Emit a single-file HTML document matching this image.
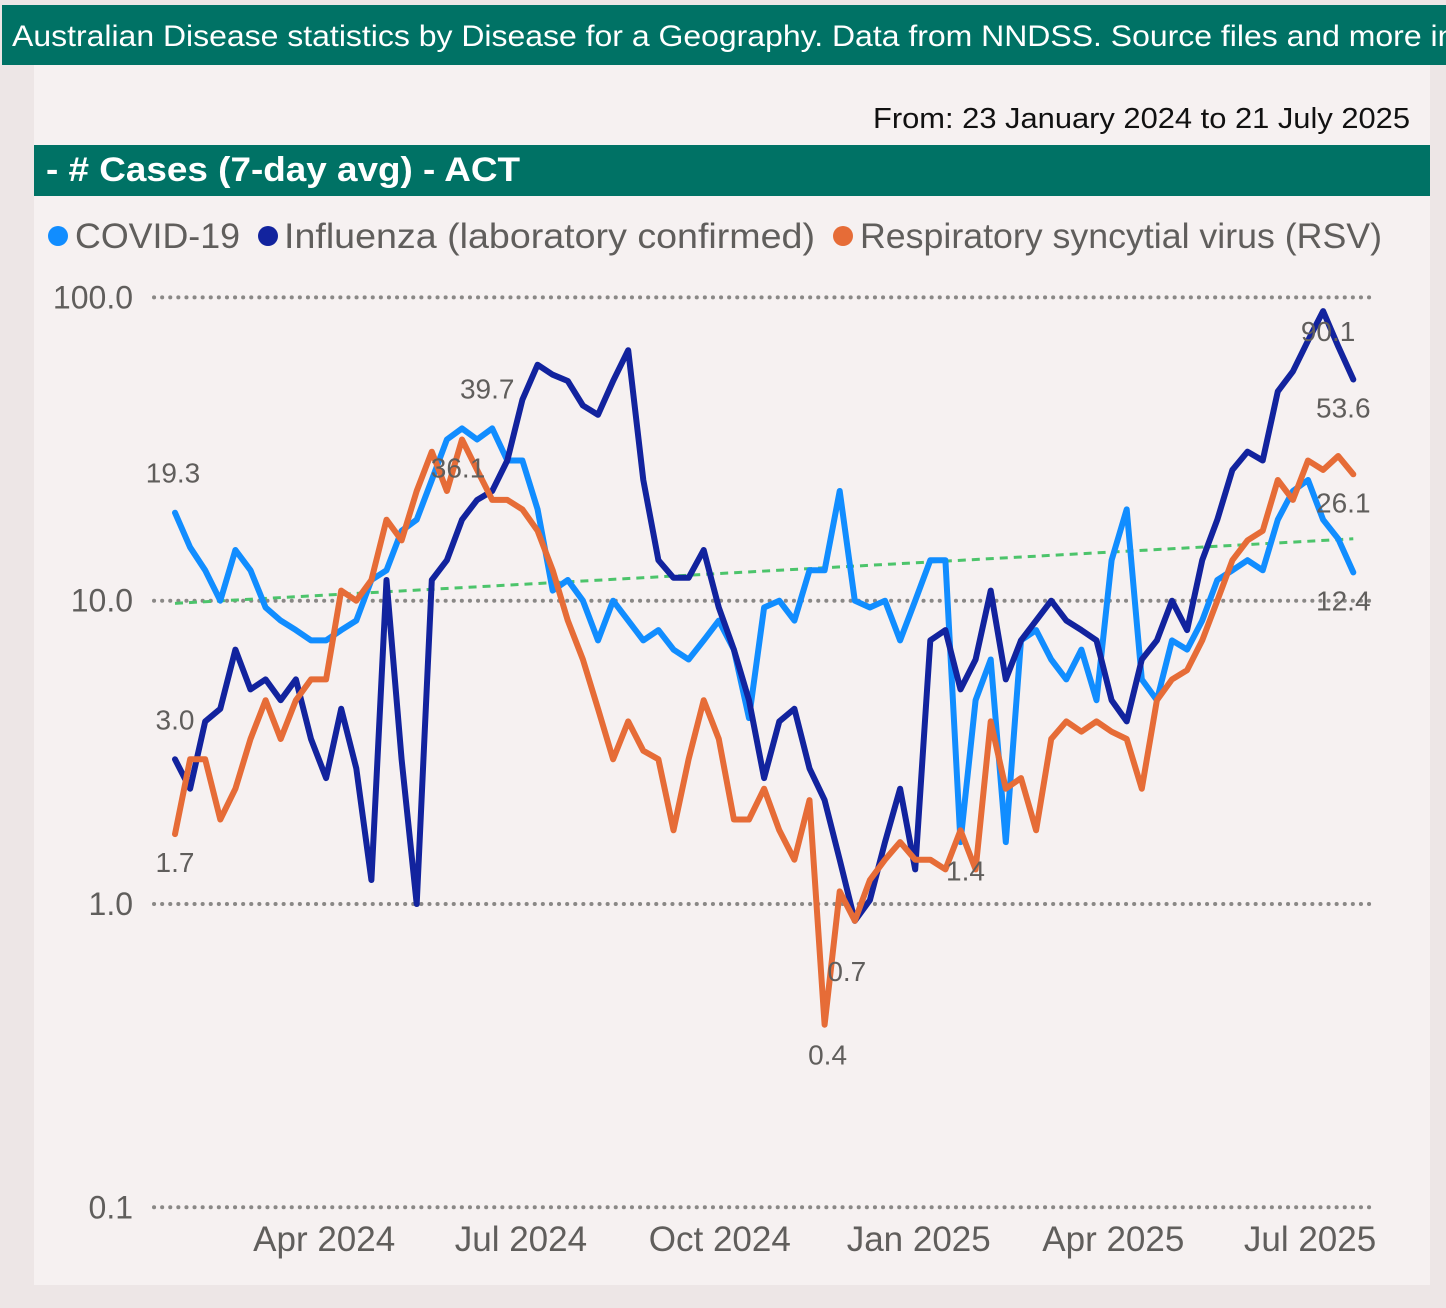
<!DOCTYPE html>
<html><head><meta charset="utf-8"><style>
html,body{margin:0;padding:0;background:#ede6e6;}
svg{display:block;font-family:"Liberation Sans",sans-serif;}
</style></head><body>
<svg id="chart" width="1446" height="1308" viewBox="0 0 1446 1308">
<rect x="0" y="0" width="1446" height="1308" fill="#ede6e6"/>
<rect x="2" y="5" width="1444" height="60" fill="#007265"/>
<text x="12" y="46" font-size="30" fill="#ffffff" textLength="1470" lengthAdjust="spacingAndGlyphs">Australian Disease statistics by Disease for a Geography. Data from NNDSS. Source files and more info</text>
<rect x="34" y="65" width="1396" height="1220" fill="#f6f1f1"/>
<text x="873" y="128" font-size="29" fill="#111" textLength="537" lengthAdjust="spacingAndGlyphs">From: 23 January 2024 to 21 July 2025</text>
<rect x="34" y="145" width="1396" height="51" fill="#007265"/>
<text x="46" y="181" font-size="34" font-weight="bold" fill="#ffffff" textLength="474" lengthAdjust="spacingAndGlyphs">- # Cases (7-day avg) - ACT</text>
<g font-size="35" fill="#605e5c">
<circle cx="58" cy="236" r="10" fill="#118DFF"/>
<text x="75" y="248" textLength="165" lengthAdjust="spacingAndGlyphs">COVID-19</text>
<circle cx="268" cy="236" r="10" fill="#12239E"/>
<text x="284" y="248" textLength="531" lengthAdjust="spacingAndGlyphs">Influenza (laboratory confirmed)</text>
<circle cx="843" cy="236" r="10" fill="#E66C37"/>
<text x="860" y="248" textLength="522" lengthAdjust="spacingAndGlyphs">Respiratory syncytial virus (RSV)</text>
</g>
<g id="grid"></g><g id="trend"></g><g id="series"></g><g id="labels"></g><g id="axes"></g>
</svg>
<script>
const yTicks=[100,10,1,0.1];
const yTickLabels=["100.0","10.0","1.0","0.1"];
const xTickDays=[69,160,252,344,434,525];
const xTickLabels=["Apr 2024","Jul 2024","Oct 2024","Jan 2025","Apr 2025","Jul 2025"];
const covid=[19.5,15,12.6,10,14.7,12.6,9.5,8.6,8,7.4,7.4,8,8.6,11.7,12.6,17,18.5,25,34,37,34,37,29,29,20,10.8,11.7,10,7.4,10,8.6,7.4,8,6.9,6.4,7.4,8.6,6.9,4.1,9.5,10,8.6,12.6,12.6,23,10,9.5,10,7.4,10,13.6,13.6,1.6,4.7,6.4,1.6,7.4,8,6.4,5.5,6.9,4.7,13.6,20,5.5,4.7,7.4,6.9,8.6,11.7,12.6,13.6,12.6,18.5,23,25,18.5,16,12.4];
const influenza=[3.0,2.4,4.0,4.4,6.9,5.1,5.5,4.7,5.5,3.5,2.6,4.4,2.8,1.2,11.7,3.0,1.0,11.7,13.6,18.5,21.5,23,29,46,60,55.6,53,44,41,53,67,25,13.6,11.9,11.9,14.7,9.5,6.9,4.7,2.6,4.0,4.4,2.8,2.2,1.4,0.88,1.03,1.6,2.4,1.3,7.4,8,5.1,6.4,10.8,5.5,7.4,8.6,10,8.6,8,7.4,4.7,4.0,6.4,7.4,10,8,13.6,18.5,27,31,29,49,57,72,90.1,69,53.6];
const rsv=[1.7,3.0,3.0,1.9,2.4,3.5,4.7,3.5,4.7,5.5,5.5,10.8,10,11.7,18.5,15.8,23,31,23,34,27,21.5,21.5,20,17,12.6,8.6,6.4,4.4,3.0,4.0,3.2,3.0,1.75,3.0,4.7,3.5,1.9,1.9,2.4,1.75,1.4,2.2,0.4,1.1,0.88,1.2,1.4,1.6,1.4,1.4,1.3,1.75,1.3,4.0,2.4,2.6,1.75,3.5,4.0,3.7,4.0,3.7,3.5,2.4,4.7,5.5,5.9,7.4,10,13.6,15.8,17,25,21.5,29,27,30,26.1];
const trendStart=9.8, trendEnd=16;
const labelIdx=[[0,"covid","19.3",-2,-30],[0,"influenza","3.0",0,-30],[0,"rsv","1.7",0,38],[21,"covid","39.7",-5,-30],[19,"rsv","36.1",-4,38],[45,"influenza","0.7",-8,60],[43,"rsv","0.4",3,40],[52,"rsv","1.4",5,50],[76,"influenza","90.1",5,30],[78,"influenza","53.6",-10,38],[78,"rsv","26.1",-10,38],[78,"covid","12.4",-10,38]];
const series={covid:covid,influenza:influenza,rsv:rsv};
const colors={covid:"#118DFF",influenza:"#12239E",rsv:"#E66C37"};
const NS="http://www.w3.org/2000/svg";
function x(day){return 175+2.162*day;}
function y(v){return 904-303.3*Math.log10(v);}
function mk(tag,attrs,parent){const e=document.createElementNS(NS,tag);for(const k in attrs)e.setAttribute(k,attrs[k]);parent.appendChild(e);return e;}
const grid=document.getElementById('grid'),axes=document.getElementById('axes');
yTicks.forEach((t,i)=>{
 const l=mk('line',{x1:154,x2:1370,y1:y(t),y2:y(t),stroke:'#8a8886','stroke-width':4,'stroke-dasharray':'0.1 8','stroke-linecap':'round'},grid);
 
 
 const tx=mk('text',{x:133,y:y(t)+11,'font-size':32,fill:'#605e5c','text-anchor':'end'},axes);
 tx.textContent=yTickLabels[i];
 
 
});
xTickDays.forEach((d,i)=>{
 const tx=mk('text',{x:x(d),y:1251,'font-size':35,fill:'#605e5c','text-anchor':'middle'},axes);
 tx.textContent=xTickLabels[i];
 
 
});
const tl=mk('line',{x1:x(0),x2:x(545),y1:y(trendStart),y2:y(trendEnd),stroke:'#4cc46b','stroke-width':3,'stroke-dasharray':'8 6'},document.getElementById('trend'));


const sg=document.getElementById('series');
["covid","influenza","rsv"].forEach(k=>{
 const arr=series[k];
 const step=545/(arr.length-1);
 const pts=arr.map((v,i)=>x(i*step).toFixed(1)+','+y(v).toFixed(1)).join(' ');
 const p=mk('polyline',{points:pts,fill:'none',stroke:colors[k],'stroke-width':6,'stroke-linejoin':'round','stroke-linecap':'round'},sg);
 
 
});
const lg=document.getElementById('labels');
labelIdx.forEach(([i,k,t,dx,dy])=>{
 const arr=series[k];const step=545/(arr.length-1);
 const tx=mk('text',{x:x(i*step)+dx,y:y(arr[i])+dy,'font-size':28,fill:'#605e5c','text-anchor':'middle'},lg);
 tx.textContent=t;
 
 
});
</script>
</body></html>
